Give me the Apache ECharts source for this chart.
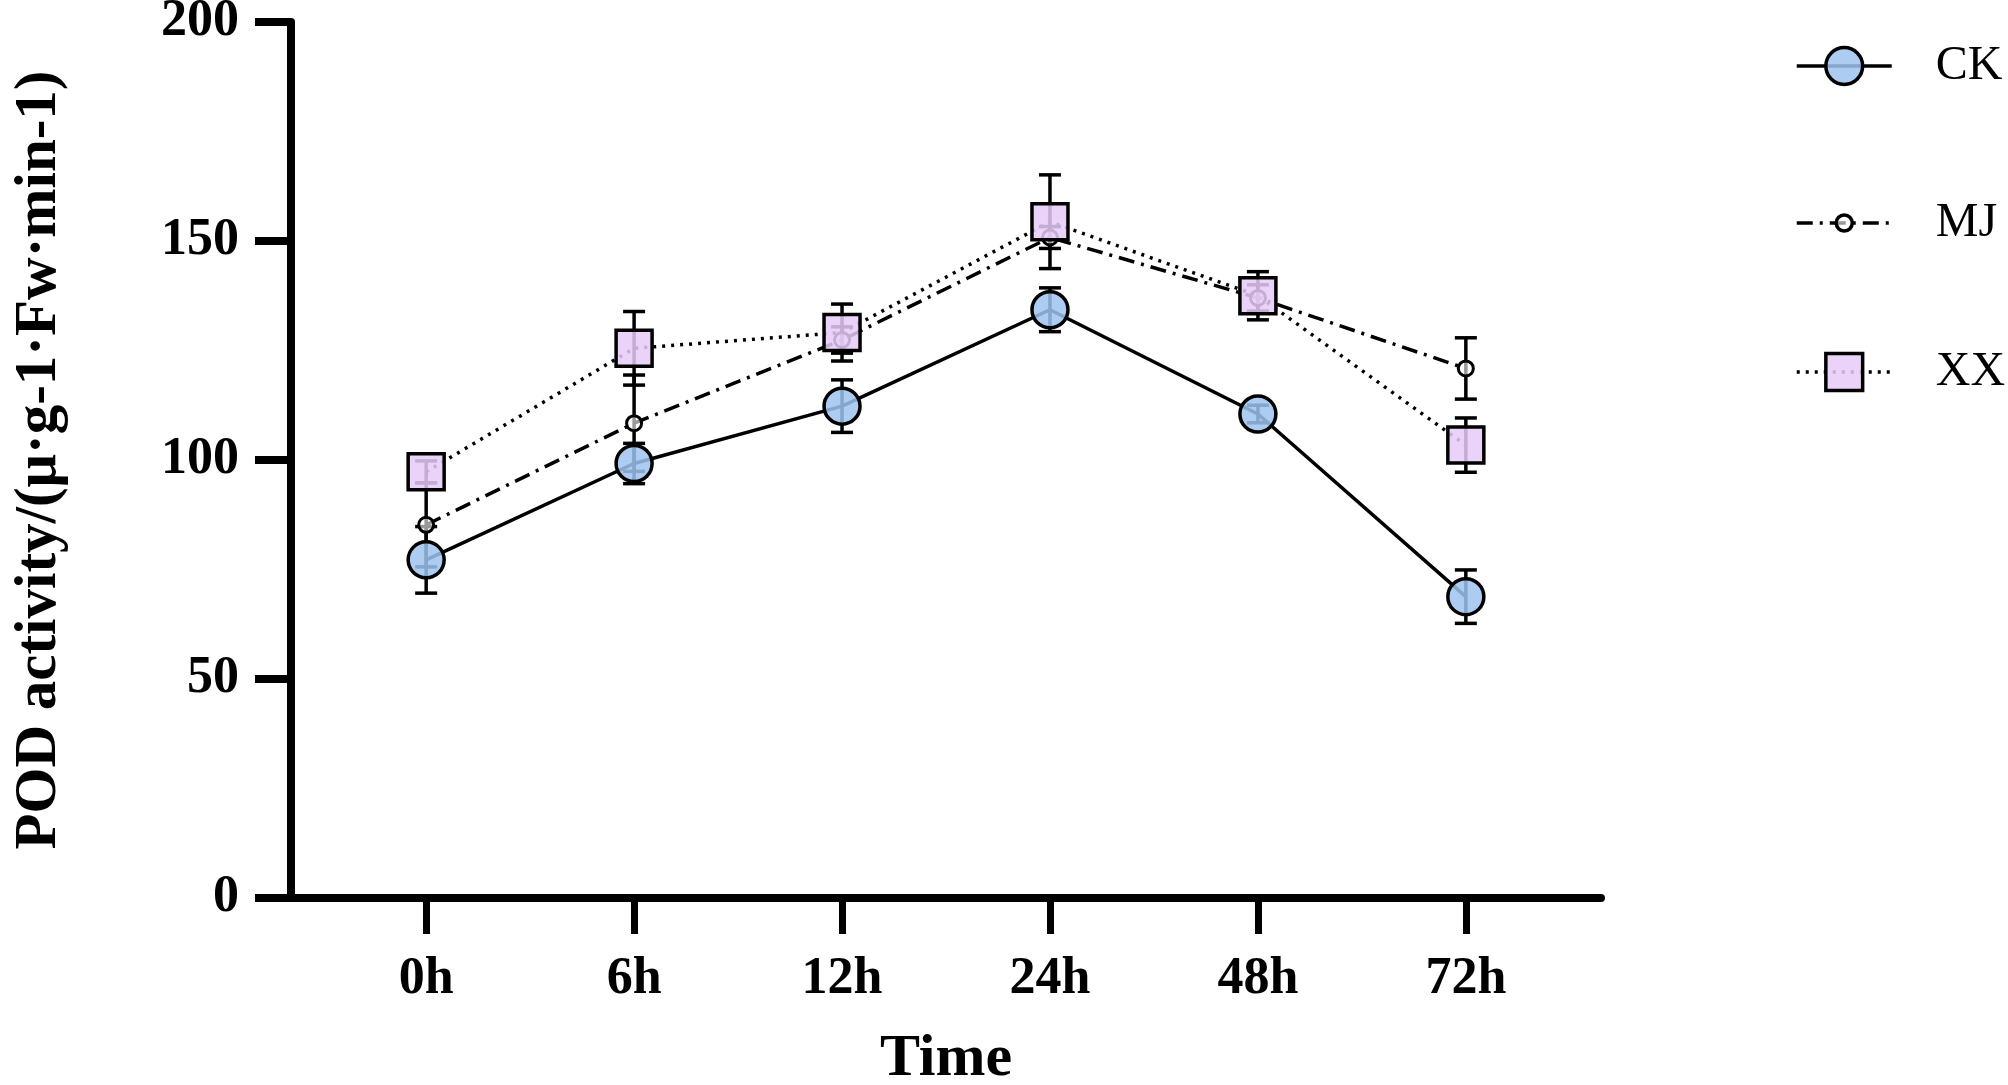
<!DOCTYPE html>
<html>
<head>
<meta charset="utf-8">
<script src="https://cdn.jsdelivr.net/npm/echarts@6/dist/echarts.min.js"></script>
<style>
  html, body { margin: 0; padding: 0; background: #fff; }
  #chart { width: 2008px; height: 1085px; }
</style>
</head>
<body>
<div id="chart"></div>
<script>
// time points on the x axis
const timeLabels = ['0h', '6h', '12h', '24h', '48h', '72h'];
const yTicks = [0, 50, 100, 150, 200];

// means
const ckValues = [77.2, 99.2, 112.3, 134.3, 110.5, 68.8];
const mjValues = [85.2, 108.4, 127.4, 150.8, 137.0, 120.9];
const xxValues = [97.3, 125.5, 129.1, 154.4, 137.5, 103.4];

// error bar half-lengths (SD)
const ckErrors = [7.6, 4.6, 6.0, 5.0, 2.0, 6.1];
const mjErrors = [9.6, 11.0, 3.0, 2.5, 3.0, 7.0];
const xxErrors = [2.5, 8.4, 6.5, 10.7, 5.5, 6.2];

const FONT = 'Liberation Serif';

function points(values) {
    return values.map((v, i) => [i, v]);
}

function errorData(values, errors) {
    return values.map((v, i) => [i, v - errors[i], v + errors[i]]);
}

// draws the vertical bar with two caps
function renderError(params, api) {
    const x = api.value(0);
    const low = api.coord([x, api.value(1)]);
    const high = api.coord([x, api.value(2)]);
    const half = 11;
    const style = {stroke: '#000', lineWidth: 3.5};
    return {
        type: 'group',
        children: [
            {type: 'line', shape: {x1: low[0], y1: low[1], x2: high[0], y2: high[1]}, style: style},
            {type: 'line', shape: {x1: low[0] - half, y1: low[1], x2: low[0] + half, y2: low[1]}, style: style},
            {type: 'line', shape: {x1: high[0] - half, y1: high[1], x2: high[0] + half, y2: high[1]}, style: style}
        ]
    };
}

function errorSeries(name, values, errors) {
    return {
        name: name + ' SD',
        type: 'custom',
        renderItem: renderError,
        encode: {x: 0, y: [1, 2]},
        data: errorData(values, errors),
        z: 1,
        silent: true
    };
}

function legendFor(name, top, itemHeight) {
    return {
        data: [name],
        orient: 'vertical',
        left: 1790,
        top: top,
        itemWidth: 95,
        itemHeight: itemHeight,
        selectedMode: false,
        lineStyle: {width: 3.5},
        itemStyle: {borderWidth: 3.5, borderColor: '#000'},
        textStyle: {
            fontFamily: FONT,
            fontSize: 48,
            color: '#000',
            padding: [0, 0, 0, 39]
        }
    };
}

const chart = echarts.init(document.getElementById('chart'), null, {renderer: 'canvas'});

chart.setOption({
    backgroundColor: '#fff',
    animation: false,
    grid: {left: 291, right: 407, top: 22, bottom: 187, containLabel: false, outerBoundsMode: 'none'},
    legend: [
        legendFor('CK', 37, 46),
        legendFor('MJ', 194, 20),
        legendFor('XX', 343, 46)
    ],
    xAxis: {
        type: 'value',
        min: -0.65,
        max: 5.65,
        name: 'Time',
        nameLocation: 'middle',
        nameGap: 131,
        nameTextStyle: {fontFamily: FONT, fontSize: 60, fontWeight: 'bold', color: '#000'},
        splitLine: {show: false},
        axisLine: {show: true, onZero: false, lineStyle: {color: '#000', width: 8}},
        axisTick: {
            show: true,
            length: 36,
            customValues: [0, 1, 2, 3, 4, 5],
            lineStyle: {color: '#000', width: 7}
        },
        axisLabel: {
            customValues: [0, 1, 2, 3, 4, 5],
            formatter: v => timeLabels[v],
            margin: 56,
            fontFamily: FONT,
            fontSize: 52,
            fontWeight: 'bold',
            color: '#000'
        }
    },
    yAxis: {
        type: 'value',
        min: yTicks[0],
        max: yTicks[yTicks.length - 1],
        interval: 50,
        name: 'POD activity/(μ·g-1·Fw·min-1)',
        nameLocation: 'middle',
        nameGap: 222,
        nameTextStyle: {fontFamily: FONT, fontSize: 59, fontWeight: 'bold', color: '#000'},
        splitLine: {show: false},
        axisLine: {show: true, onZero: false, lineStyle: {color: '#000', width: 8}},
        axisTick: {show: true, length: 36, lineStyle: {color: '#000', width: 8}},
        axisLabel: {
            margin: 52,
            fontFamily: FONT,
            fontSize: 52,
            fontWeight: 'bold',
            color: '#000'
        }
    },
    series: [
        errorSeries('CK', ckValues, ckErrors),
        errorSeries('MJ', mjValues, mjErrors),
        errorSeries('XX', xxValues, xxErrors),
        {
            name: 'CK',
            type: 'line',
            data: points(ckValues),
            symbol: 'circle',
            symbolSize: 36,
            z: 2,
            lineStyle: {color: '#000', width: 3.5, type: 'solid'},
            itemStyle: {color: 'rgba(157,196,238,0.85)', borderColor: '#000', borderWidth: 3.5}
        },
        {
            name: 'MJ',
            type: 'line',
            data: points(mjValues),
            symbol: 'circle',
            symbolSize: 15,
            z: 2,
            lineStyle: {color: '#000', width: 3.5, type: [16, 7, 3, 7]},
            itemStyle: {color: 'rgba(255,255,255,0.6)', borderColor: '#000', borderWidth: 3}
        },
        {
            name: 'XX',
            type: 'line',
            data: points(xxValues),
            symbol: 'rect',
            symbolSize: 36,
            z: 2,
            lineStyle: {color: '#000', width: 3.5, type: [3, 6]},
            itemStyle: {color: 'rgba(232,202,247,0.85)', borderColor: '#000', borderWidth: 3.5}
        }
    ]
});
</script>
</body>
</html>
